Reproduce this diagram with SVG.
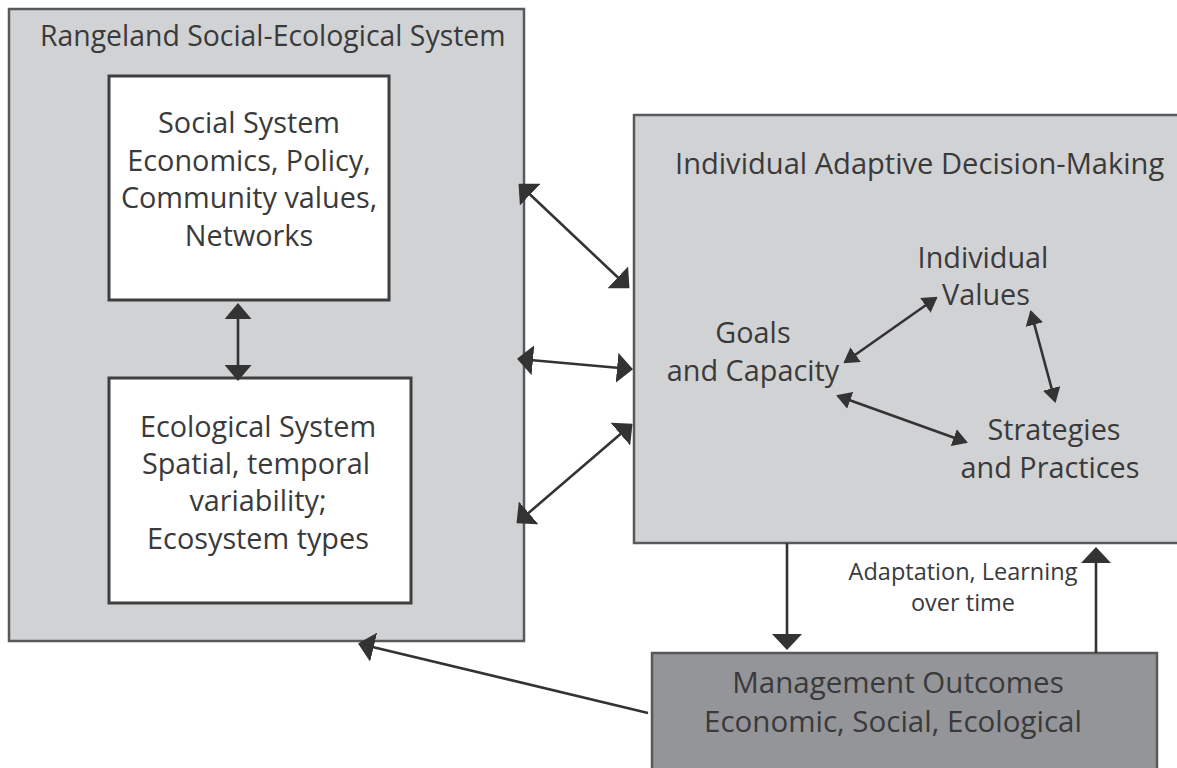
<svg xmlns="http://www.w3.org/2000/svg" width="1177" height="768" viewBox="0 0 1177 768">
  <style>
    .panel { fill: #d1d2d4; stroke: #58595b; stroke-width: 2.5; }
    .inner { fill: #ffffff; stroke: #3f3f40; stroke-width: 3; }
    .outcome { fill: #949598; stroke: #58595b; stroke-width: 2.5; }
    .lbl { font-family: "Open Sans", "Liberation Sans", sans-serif; font-size: 28.8px; fill: #3a3a3b; }
    .mid { text-anchor: middle; }
    .small { font-size: 23.5px; }
    .link { fill: none; stroke: #333334; stroke-width: 2.6; }
  </style>
  <defs>
    <!-- wide, short arrowheads -->
    <marker id="head" markerUnits="userSpaceOnUse" viewBox="0 0 16 30" markerWidth="16" markerHeight="30" refX="14" refY="15" orient="auto-start-reverse">
      <path d="M0,0 L16,15 L0,30 Z" fill="#333334"/>
    </marker>
    <marker id="headMd" markerUnits="userSpaceOnUse" viewBox="0 0 16 27" markerWidth="16" markerHeight="27" refX="14" refY="13.5" orient="auto-start-reverse">
      <path d="M0,0 L16,13.5 L0,27 Z" fill="#333334"/>
    </marker>
    <marker id="headSm" markerUnits="userSpaceOnUse" viewBox="0 0 15 18" markerWidth="15" markerHeight="18" refX="13" refY="9" orient="auto-start-reverse">
      <path d="M0,0 L15,9 L0,18 Z" fill="#333334"/>
    </marker>
  </defs>

  <!-- Rangeland social-ecological system panel -->
  <g id="rangeland-system">
    <rect class="panel" x="9" y="9" width="515" height="632"/>
    <text class="lbl" x="40" y="46" style="font-size:28.4px">Rangeland Social-Ecological System</text>
  </g>

  <g id="social-system">
    <rect class="inner" x="109" y="76" width="280" height="224"/>
    <text class="lbl mid" x="249" y="133">Social System</text>
    <text class="lbl mid" x="249" y="171">Economics, Policy,</text>
    <text class="lbl mid" x="249" y="208">Community values,</text>
    <text class="lbl mid" x="249" y="246">Networks</text>
  </g>

  <g id="ecological-system">
    <rect class="inner" x="109" y="378" width="302" height="225"/>
    <text class="lbl mid" x="258" y="437">Ecological System</text>
    <text class="lbl mid" x="256" y="474">Spatial, temporal</text>
    <text class="lbl mid" x="258" y="511">variability;</text>
    <text class="lbl mid" x="258" y="549">Ecosystem types</text>
  </g>

  <!-- Individual decision-making panel -->
  <g id="decision-making">
    <rect class="panel" x="634" y="115" width="560" height="428"/>
    <text class="lbl" x="675" y="174" style="font-size:29.1px">Individual Adaptive Decision-Making</text>
  </g>

  <g id="individual-values">
    <text class="lbl mid" x="983" y="268">Individual</text>
    <text class="lbl mid" x="986" y="305">Values</text>
  </g>

  <g id="goals-capacity">
    <text class="lbl mid" x="753" y="343">Goals</text>
    <text class="lbl mid" x="753" y="381">and Capacity</text>
  </g>

  <g id="strategies-practices">
    <text class="lbl mid" x="1054" y="440">Strategies</text>
    <text class="lbl mid" x="1050" y="478">and Practices</text>
  </g>

  <!-- Outcomes panel -->
  <g id="management-outcomes">
    <rect class="outcome" x="652" y="653" width="505" height="130"/>
    <text class="lbl mid" x="898" y="693" style="font-size:29.5px">Management Outcomes</text>
    <text class="lbl mid" x="893" y="732" style="font-size:29.5px">Economic, Social, Ecological</text>
  </g>

  <g id="feedback-label">
    <text class="lbl mid small" x="963" y="580">Adaptation, Learning</text>
    <text class="lbl mid small" x="963" y="611">over time</text>
  </g>

  <!-- Connectors -->
  <g id="connectors">
    <path class="link" d="M520,185 L628,287" marker-start="url(#head)" marker-end="url(#head)"/>
    <path class="link" d="M519,359 L631,369" marker-start="url(#head)" marker-end="url(#head)"/>
    <path class="link" d="M518,522 L631,425" marker-start="url(#head)" marker-end="url(#head)"/>
    <path class="link" d="M238,305 L238,379" marker-start="url(#headMd)" marker-end="url(#headMd)"/>
    <path class="link" d="M845,362 L936,298" marker-start="url(#headSm)" marker-end="url(#headSm)"/>
    <path class="link" d="M838,396 L966,442" marker-start="url(#headSm)" marker-end="url(#headSm)"/>
    <path class="link" d="M1031,312 L1055,401" marker-start="url(#headSm)" marker-end="url(#headSm)"/>
    <path class="link" d="M787,543 L787,648" marker-end="url(#head)"/>
    <path class="link" d="M1096,653 L1096,549" marker-end="url(#head)"/>
    <path class="link" d="M648,713 L360,644" marker-end="url(#head)"/>
  </g>
</svg>
